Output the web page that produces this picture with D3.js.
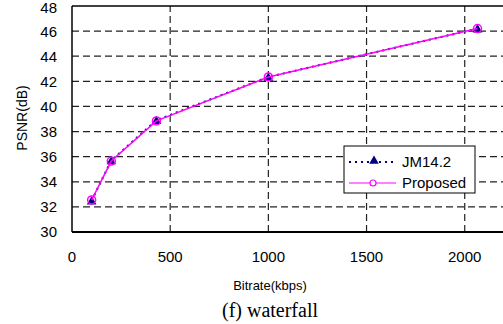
<!DOCTYPE html>
<html lang="en">
<head>
<meta charset="utf-8">
<title>PSNR vs Bitrate - waterfall</title>
<script src="https://d3js.org/d3.v7.min.js"></script>
<style>
  body { margin: 0; background: #fff; }
  svg text { font-family: "Liberation Sans", Arial, sans-serif; fill: #000; }
</style>
</head>
<body>
<div id="chart"></div>
<script>
// data
var bitrates = [100, 200, 430, 1000, 2065];
var jmPsnr = [32.5, 35.7, 38.9, 42.35, 46.2];
var propPsnr = [32.55, 35.65, 38.85, 42.35, 46.2];
var seriesNames = ["JM14.2", "Proposed"];
var xTicks = [0, 500, 1000, 1500, 2000];
var yTicks = [30, 32, 34, 36, 38, 40, 42, 44, 46, 48];

var W = 503, H = 324;
var margin = {top: 6, left: 72, bottom: 92};
var plotW = 432, plotH = H - margin.top - margin.bottom;

var svg = d3.select("#chart").append("svg")
  .attr("width", W).attr("height", H);

var x = d3.scaleLinear().domain([0, 2200]).range([margin.left, margin.left + plotW]);
var y = d3.scaleLinear().domain([30, 48]).range([margin.top + plotH, margin.top]);

// grid
svg.append("g").selectAll("line").data(yTicks.slice(1, -1)).join("line")
  .attr("x1", x(0)).attr("x2", x(2200))
  .attr("y1", function(d) { return y(d); }).attr("y2", function(d) { return y(d); })
  .attr("stroke", "#222").attr("stroke-width", 1.2).attr("stroke-dasharray", "7,4");
svg.append("g").selectAll("line").data(xTicks.slice(1)).join("line")
  .attr("x1", function(d) { return x(d); }).attr("x2", function(d) { return x(d); })
  .attr("y1", y(30)).attr("y2", y(48))
  .attr("stroke", "#222").attr("stroke-width", 1.2).attr("stroke-dasharray", "7,4");

// frame (left, top, bottom)
svg.append("line").attr("x1", x(0)).attr("x2", x(0)).attr("y1", y(30)).attr("y2", y(48))
  .attr("stroke", "#000").attr("stroke-width", 1.5);
svg.append("line").attr("x1", x(0)).attr("x2", x(2200)).attr("y1", y(48)).attr("y2", y(48))
  .attr("stroke", "#000").attr("stroke-width", 1.5);
svg.append("line").attr("x1", x(0)).attr("x2", x(2200)).attr("y1", y(30)).attr("y2", y(30))
  .attr("stroke", "#000").attr("stroke-width", 2);

// tick labels
svg.append("g").selectAll("text").data(yTicks).join("text")
  .attr("x", 57).attr("y", function(d) { return Math.max(y(d), 7.5); })
  .attr("dy", "0.36em").attr("text-anchor", "end")
  .style("font-size", "15px").text(function(d) { return d; });
svg.append("g").selectAll("text").data(xTicks).join("text")
  .attr("x", function(d) { return x(d); }).attr("y", 257)
  .attr("dy", "0.36em").attr("text-anchor", "middle")
  .style("font-size", "15px").text(function(d) { return d; });

// axis titles
svg.append("text").attr("x", 270).attr("y", 285).attr("dy", "0.36em")
  .attr("text-anchor", "middle").style("font-size", "13px").text("Bitrate(kbps)");
svg.append("text").attr("transform", "translate(22,118) rotate(-90)")
  .attr("dy", "0.36em").attr("text-anchor", "middle")
  .style("font-size", "14px").text("PSNR(dB)");
svg.append("text").attr("x", 270).attr("y", 310).attr("dy", "0.36em")
  .attr("text-anchor", "middle")
  .style("font-family", "'Liberation Serif', 'Times New Roman', serif")
  .style("font-size", "20px").text("(f) waterfall");

var line = d3.line().x(function(d) { return x(d[0]); }).y(function(d) { return y(d[1]); });
var jmPts = d3.zip(bitrates, jmPsnr);
var propPts = d3.zip(bitrates, propPsnr);
var tri = d3.symbol().type(d3.symbolTriangle).size(40);

// JM14.2: navy dotted with triangles
svg.append("path").attr("d", line(jmPts)).attr("fill", "none")
  .attr("stroke", "#000080").attr("stroke-width", 2).attr("stroke-dasharray", "2,4");
svg.append("g").selectAll("path").data(jmPts).join("path")
  .attr("d", tri).attr("fill", "#000080")
  .attr("transform", function(d) { return "translate(" + x(d[0]) + "," + (y(d[1]) + 1) + ")"; });

// Proposed: magenta solid with open circles
svg.append("path").attr("d", line(propPts)).attr("fill", "none")
  .attr("stroke", "#ff00ff").attr("stroke-width", 1.5);
svg.append("g").selectAll("circle").data(propPts).join("circle")
  .attr("cx", function(d) { return x(d[0]); }).attr("cy", function(d) { return y(d[1]); })
  .attr("r", 4).attr("fill", "none").attr("stroke", "#ff00ff").attr("stroke-width", 1.5);

// legend
var lg = svg.append("g");
lg.append("rect").attr("x", 344).attr("y", 146).attr("width", 131).attr("height", 47)
  .attr("fill", "#fff").attr("stroke", "#000").attr("stroke-width", 1);
lg.append("line").attr("x1", 349).attr("x2", 396).attr("y1", 162).attr("y2", 162)
  .attr("stroke", "#000080").attr("stroke-width", 2).attr("stroke-dasharray", "2,4");
lg.append("path").attr("d", tri).attr("fill", "#000080").attr("transform", "translate(374,161)");
lg.append("line").attr("x1", 349).attr("x2", 396).attr("y1", 183).attr("y2", 183)
  .attr("stroke", "#ff00ff").attr("stroke-width", 1.2);
lg.append("circle").attr("cx", 373).attr("cy", 183).attr("r", 3)
  .attr("fill", "#fff").attr("stroke", "#ff00ff").attr("stroke-width", 1.2);
lg.selectAll("text").data(seriesNames).join("text")
  .attr("x", 402).attr("y", function(d, i) { return 162 + i * 21; })
  .attr("dy", "0.36em").style("font-size", "15px").text(function(d) { return d; });
</script>
</body>
</html>
